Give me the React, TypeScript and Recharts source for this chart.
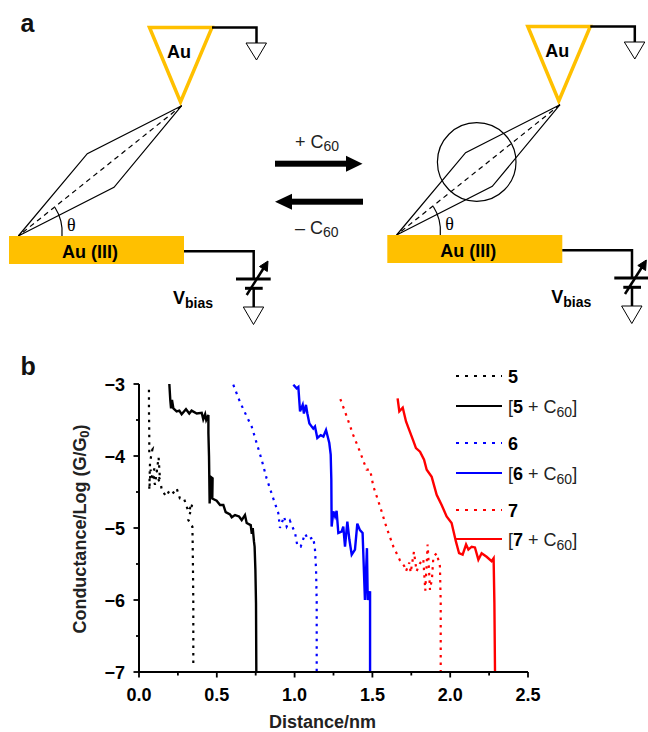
import React from "react";
import { ComposedChart, Line, XAxis, YAxis, Legend, Label } from "recharts";

type P = { x: number; y: number };
const pts = (a: number[][]): P[] => a.map(([x, y]) => ({ x, y }));

const xTicks = [0, 0.25, 0.5, 0.75, 1, 1.25, 1.5, 1.75, 2, 2.25, 2.5];
const yTicks = [-7, -6.5, -6, -5.5, -5, -4.5, -4, -3.5, -3];

const mol5 = pts([[.064,-3.08],[.064,-3.36],[.066,-3.68],[.066,-3.96],[.086,-3.91],[.071,-4.08],[.066,-4.47],[.075,-4.19],[.103,-4.4],[.126,-4.02],[.135,-4.33],[.103,-4.15],[.075,-4.33],[.114,-4.28],[.141,-4.4],[.146,-4.47],[.174,-4.56],[.199,-4.47],[.221,-4.51],[.242,-4.45],[.263,-4.59],[.289,-4.59],[.317,-4.77],[.343,-4.66],[.317,-4.89],[.343,-4.98],[.345,-5.21],[.347,-5.58],[.349,-6.04],[.349,-6.94]]);
const mol5C60 = pts([[.195,-3],[.201,-3.22],[.206,-3.34],[.212,-3.22],[.221,-3.34],[.242,-3.38],[.259,-3.37],[.274,-3.42],[.302,-3.35],[.323,-3.41],[.338,-3.37],[.371,-3.41],[.403,-3.4],[.413,-3.49],[.425,-3.42],[.432,-3.5],[.446,-3.43],[.446,-3.68],[.45,-4.01],[.454,-4.66],[.461,-4.29],[.473,-4.31],[.471,-4.59],[.499,-4.62],[.521,-4.68],[.542,-4.68],[.557,-4.78],[.585,-4.81],[.596,-4.85],[.617,-4.82],[.643,-4.84],[.66,-4.89],[.681,-4.82],[.692,-4.93],[.718,-4.96],[.725,-5.08],[.731,-5.0],[.739,-5.19],[.743,-5.26],[.748,-5.58],[.752,-6.04],[.754,-7]]);
const mol6 = pts([[.606,-3.01],[.649,-3.25],[.688,-3.43],[.724,-3.59],[.756,-3.82],[.788,-4.05],[.82,-4.31],[.863,-4.59],[.895,-4.79],[.906,-5],[.932,-4.84],[.949,-4.98],[.97,-4.9],[1.003,-5.07],[1.018,-5.25],[1.039,-5.26],[1.067,-5.08],[1.088,-5.16],[1.12,-5.13],[1.131,-5.3],[1.138,-5.58],[1.142,-6.04],[1.142,-7]]);
const mol6C60 = pts([[.992,-3.01],[1.013,-3.06],[1.024,-3.04],[1.035,-3.38],[1.052,-3.29],[1.06,-3.41],[1.073,-3.29],[1.082,-3.41],[1.095,-3.55],[1.12,-3.62],[1.131,-3.59],[1.146,-3.75],[1.168,-3.71],[1.185,-3.73],[1.202,-3.64],[1.223,-3.82],[1.232,-3.98],[1.236,-4.33],[1.238,-4.98],[1.249,-4.77],[1.26,-4.84],[1.27,-4.76],[1.281,-5.07],[1.302,-5.05],[1.313,-4.98],[1.324,-5.26],[1.339,-4.91],[1.352,-5.16],[1.367,-5.37],[1.388,-5.3],[1.403,-4.94],[1.42,-5.03],[1.437,-5.07],[1.452,-6],[1.465,-5.28],[1.47,-6],[1.485,-5.88],[1.485,-7]]);
const mol7 = pts([[1.294,-3.21],[1.335,-3.45],[1.377,-3.71],[1.42,-3.94],[1.463,-4.19],[1.485,-4.19],[1.506,-4.42],[1.549,-4.7],[1.592,-5],[1.635,-5.26],[1.677,-5.45],[1.705,-5.53],[1.716,-5.6],[1.737,-5.48],[1.746,-5.62],[1.767,-5.33],[1.784,-5.6],[1.806,-5.49],[1.827,-5.43],[1.84,-5.87],[1.855,-5.23],[1.866,-5.67],[1.87,-5.86],[1.883,-5.7],[1.892,-5.4],[1.913,-5.35],[1.934,-5.53],[1.939,-6.04],[1.939,-7]]);
const mol7C60 = pts([[1.662,-3.2],[1.673,-3.38],[1.695,-3.33],[1.716,-3.52],[1.737,-3.64],[1.763,-3.79],[1.78,-3.89],[1.806,-3.94],[1.832,-4.05],[1.849,-4.19],[1.881,-4.29],[1.913,-4.54],[1.945,-4.68],[1.977,-4.84],[2.009,-4.93],[2.037,-5.19],[2.057,-5.35],[2.08,-5.37],[2.102,-5.23],[2.117,-5.3],[2.138,-5.26],[2.159,-5.27],[2.181,-5.44],[2.202,-5.35],[2.234,-5.4],[2.266,-5.46],[2.279,-5.42],[2.284,-6.04],[2.288,-7]]);

const seriesList = [
  { name: "5", data: mol5, color: "#000000", dotted: true },
  { name: "[5 + C60]", data: mol5C60, color: "#000000", dotted: false },
  { name: "6", data: mol6, color: "#0000FF", dotted: true },
  { name: "[6 + C60]", data: mol6C60, color: "#0000FF", dotted: false },
  { name: "7", data: mol7, color: "#FF0000", dotted: true },
  { name: "[7 + C60]", data: mol7C60, color: "#FF0000", dotted: false },
];
const legendY = [376, 406, 443, 473, 510, 539];

const FONT = "'Liberation Sans', Arial, sans-serif";
const minus = (v: number) => (v < 0 ? "\u2212" + Math.abs(v) : String(v));

const XTick = (p: any) => {
  const v = p.payload.value;
  const major = Math.abs(v * 2 - Math.round(v * 2)) < 1e-6;
  return (
    <g>
      <line x1={p.x} x2={p.x} y1={p.y} y2={p.y + (major ? 5.5 : 3.5)} stroke="#000" strokeWidth={1.8} />
      {major && (
        <text x={p.x} y={p.y + 29} textAnchor="middle" fontFamily={FONT} fontWeight="bold" fontSize={18} fill="#000">
          {v.toFixed(1)}
        </text>
      )}
    </g>
  );
};
const YTick = (p: any) => {
  const v = p.payload.value;
  const major = Number.isInteger(v);
  return (
    <g>
      <line x1={p.x} x2={p.x - (major ? 5.5 : 3)} y1={p.y} y2={p.y} stroke="#000" strokeWidth={1.8} />
      {major && (
        <text x={p.x - 14} y={p.y + 6.5} textAnchor="end" fontFamily={FONT} fontWeight="bold" fontSize={18} fill="#000">
          {minus(v)}
        </text>
      )}
    </g>
  );
};

const LegendBox = () => (
  <svg width={150} height={190} style={{ display: "block", overflow: "visible" }}>
    {seriesList.map((s, i) => {
      const y = legendY[i] - 366;
      const m = s.name.match(/^\[(\d) \+ C60\]$/);
      return (
        <g key={s.name}>
          <line x1={6} x2={52} y1={y} y2={y} stroke={s.color} strokeWidth={2} strokeDasharray={s.dotted ? "3 6" : undefined} />
          <text x={58} y={y + 6.5} fontFamily={FONT} fontSize={18} fill="#222">
            {m ? (
              <>
                [<tspan fontWeight="bold" fill="#000">{m[1]}</tspan> + C<tspan fontSize={14} dy={4}>60</tspan><tspan dy={-4}>]</tspan>
              </>
            ) : (
              <tspan fontWeight="bold" fill="#000">{s.name}</tspan>
            )}
          </text>
        </g>
      );
    })}
  </svg>
);

const YTitle = () => (
  <text transform="translate(86,529) rotate(-90)" textAnchor="middle" fontFamily={FONT} fontWeight="bold" fontSize={18} fill="#222">
    Conductance/Log (G/G<tspan fontSize={13} dy={3}>0</tspan><tspan dy={-3}>)</tspan>
  </text>
);
const XTitle = () => (
  <text x={322.5} y={727.5} textAnchor="middle" fontFamily={FONT} fontWeight="bold" fontSize={18} fill="#222">
    Distance/nm
  </text>
);

const GOLD = "#FFC000";
const Junction = ({ dx, dy }: { dx: number; dy: number }) => (
  <g transform={`translate(${dx},${dy})`} fontFamily={FONT} fill="#000">
    <polygon points="149.5,27.5 212,27.5 180.5,102" fill="#fff" stroke={GOLD} strokeWidth={3.5} />
    <text x={179} y={58} textAnchor="middle" fontWeight="bold" fontSize={18}>Au</text>
    <polyline points="212,27.5 256.5,27.5 256.5,43" fill="none" stroke="#000" strokeWidth={2.5} />
    <polygon points="246,43 266.5,43 256.5,60" fill="#fff" stroke="#000" strokeWidth={1} />
    <polygon points="181.7,105.7 87.3,153.7 18.3,236 114,187.3" fill="none" stroke="#000" strokeWidth={1.2} />
    <line x1={181.7} y1={105.7} x2={18.3} y2={236} stroke="#000" strokeWidth={1.2} strokeDasharray="5 4" />
    <path d="M55,207.5 A46,46 0 0 1 62,236" fill="none" stroke="#000" strokeWidth={1.2} />
    <text x={67} y={231} fontFamily="'Liberation Serif', serif" fontSize={18}>θ</text>
    <rect x={9} y={236} width={175} height={28} fill={GOLD} />
    <text x={90} y={258} textAnchor="middle" fontWeight="bold" fontSize={18}>Au (III)</text>
    <polyline points="184,251.3 253.7,251.3 253.7,279" fill="none" stroke="#000" strokeWidth={2.5} />
    <line x1={236} x2={270.7} y1={279} y2={279} stroke="#000" strokeWidth={3} />
    <line x1={245} x2={262.7} y1={288.3} y2={288.3} stroke="#000" strokeWidth={3} />
    <line x1={253.7} x2={253.7} y1={288} y2={307} stroke="#000" strokeWidth={2.5} />
    <polygon points="243.3,307 263.7,307 253.5,324.5" fill="#fff" stroke="#000" strokeWidth={1} />
    <line x1={246.7} y1={295} x2={265} y2={266} stroke="#000" strokeWidth={2.5} />
    <polygon points="268,261 267.3,271.5 259.5,266.5" fill="#000" stroke="#000" strokeWidth={1} />
    <text x={173} y={304} fontWeight="bold" fontSize={18}>V<tspan fontSize={14} dy={4}>bias</tspan></text>
  </g>
);

const Schematic = () => (
  <svg width={648} height={732} style={{ position: "absolute", left: 0, top: 0, pointerEvents: "none" }}>
    <text x={20.5} y={32} fontFamily={FONT} fontWeight="bold" fontSize={25} fill="#111">a</text>
    <text x={20.5} y={375} fontFamily={FONT} fontWeight="bold" fontSize={25} fill="#111">b</text>
    <Junction dx={0} dy={0} />
    <Junction dx={378.3} dy={-1} />
    <circle cx={476.7} cy={162} r={39.3} fill="none" stroke="#000" strokeWidth={1.2} />
    <g fill="#000">
      <rect x={275} y={160.7} width={72} height={6} />
      <polygon points="346,155.7 362.5,163.7 346,171.7" />
      <rect x={291} y={198.7} width={72} height={6} />
      <polygon points="275,201.7 292,193.7 292,209.7" />
    </g>
    <text x={295} y={147.5} fontFamily={FONT} fontSize={18} fill="#222">+ C<tspan fontSize={14} dy={3}>60</tspan></text>
    <text x={295} y={233.5} fontFamily={FONT} fontSize={18} fill="#222">– C<tspan fontSize={14} dy={3}>60</tspan></text>
  </svg>
);

export default function App() {
  return (
    <div style={{ position: "absolute", left: 0, top: 0, width: 648, height: 732, background: "#fff" }}>
      <ComposedChart width={648} height={732} margin={{ top: 384, left: 79, right: 120, bottom: 30 }}>
        <XAxis dataKey="x" type="number" domain={[0, 2.5]} ticks={xTicks} interval={0} tick={XTick} tickLine={false} tickSize={0} tickMargin={0} axisLine={{ stroke: "#000", strokeWidth: 2 }} allowDataOverflow>
          <Label content={XTitle} />
        </XAxis>
        <YAxis dataKey="y" type="number" domain={[-7, -3]} ticks={yTicks} interval={0} tick={YTick} tickLine={false} tickSize={0} tickMargin={0} axisLine={{ stroke: "#000", strokeWidth: 2 }} allowDataOverflow>
          <Label content={YTitle} />
        </YAxis>
        {seriesList.map((s) => (
          <Line key={s.name} data={s.data} dataKey="y" name={s.name} type="linear" stroke={s.color} strokeWidth={s.dotted ? 2.2 : 2.4} strokeDasharray={s.dotted ? "2.5 5" : undefined} dot={false} activeDot={false} isAnimationActive={false} />
        ))}
        <Legend layout="vertical" align="center" verticalAlign="middle" content={LegendBox} wrapperStyle={{ position: "absolute", left: 450, top: 366, width: 150, height: 190 }} />
      </ComposedChart>
      <Schematic />
    </div>
  );
}
